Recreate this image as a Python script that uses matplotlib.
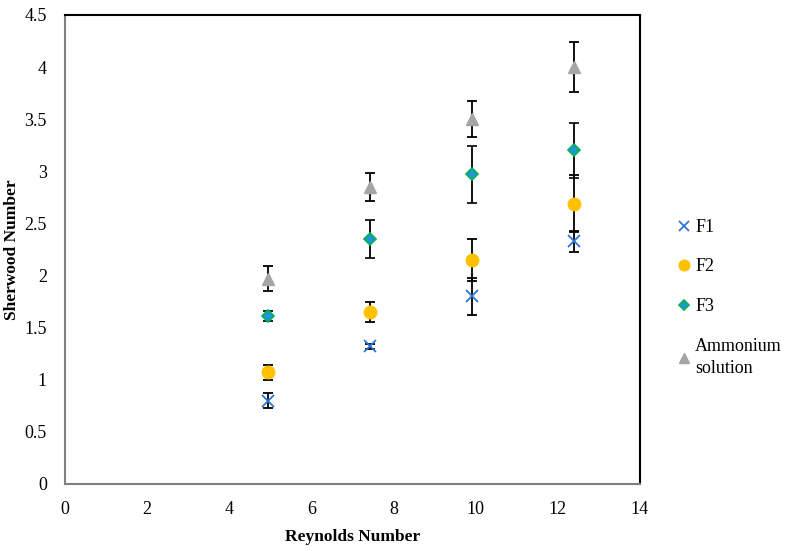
import numpy as np
import matplotlib.pyplot as plt

plt.rcParams['font.family'] = ['Liberation Serif', 'DejaVu Serif']

re_num = [4.95, 7.43, 9.92, 12.4]

f1 = [0.80, 1.32, 1.80, 2.33]
f1_err = [0.07, 0.02, 0.18, 0.10]
f2 = [1.07, 1.65, 2.15, 2.69]
f2_err = [0.07, 0.10, 0.20, 0.27]
f3 = [1.61, 2.35, 2.97, 3.20]
f3_err = [0.05, 0.18, 0.27, 0.26]
amm = [1.97, 2.85, 3.50, 4.00]
amm_err = [0.12, 0.13, 0.17, 0.24]

fig = plt.figure(figsize=(7.87, 5.51), dpi=100)
ax = fig.add_axes([0.0826, 0.1216, 0.7304, 0.8512])

ekw = dict(ecolor='black', elinewidth=1.3, capsize=3.5, capthick=1.3, linestyle='none')
ax.errorbar(re_num, f1, yerr=f1_err, marker='x', ms=9, mew=1.3, color='#2E75D6', label='F1', **ekw)
ax.errorbar(re_num, f2, yerr=f2_err, marker='o', ms=9, color='#FFC000', mec='#FFC000', label='F2', **ekw)
ax.errorbar(re_num, f3, yerr=f3_err, marker='D', ms=6.5, color='#1F96D6', mec='#00B050', mew=1.2, label='F3', **ekw)
ax.errorbar(re_num, amm, yerr=amm_err, marker='^', ms=8.5, color='#A5A5A5', mec='#A5A5A5', label='Ammonium\nsolution', **ekw)

ax.set_xlim(0, 14)
ax.set_ylim(0, 4.5)
ax.set_xticks(np.arange(0, 15, 2))
ax.set_yticks(np.arange(0, 4.6, 0.5))
ax.set_yticklabels(['0', '0.5', '1', '1.5', '2', '2.5', '3', '3.5', '4', '4.5'])
ax.tick_params(axis='x', length=0, labelsize=13, pad=12)
ax.tick_params(axis='y', length=0, labelsize=13, pad=13)

for s in ['left', 'bottom']:
    ax.spines[s].set_color('#808080')
    ax.spines[s].set_linewidth(1.5)
for s in ['top', 'right']:
    ax.spines[s].set_color('black')
    ax.spines[s].set_linewidth(1.5)

ax.set_xlabel('Reynolds Number', fontsize=12.5, fontweight='bold', labelpad=8)
ax.set_ylabel('Sherwood Number', fontsize=12.5, fontweight='bold', labelpad=3)

# legend without error bars
handles, labels = ax.get_legend_handles_labels()
handles = [h[0] for h in handles]
leg = ax.legend(handles, labels, loc='upper left', bbox_to_anchor=(1.04, 0.6),
                frameon=False, fontsize=13, handlelength=0.6, handletextpad=0.3,
                labelspacing=1.25, markerscale=0.85)
leg.get_texts()[3].set_linespacing(1.45)

fig.savefig('out.png', dpi=100)
